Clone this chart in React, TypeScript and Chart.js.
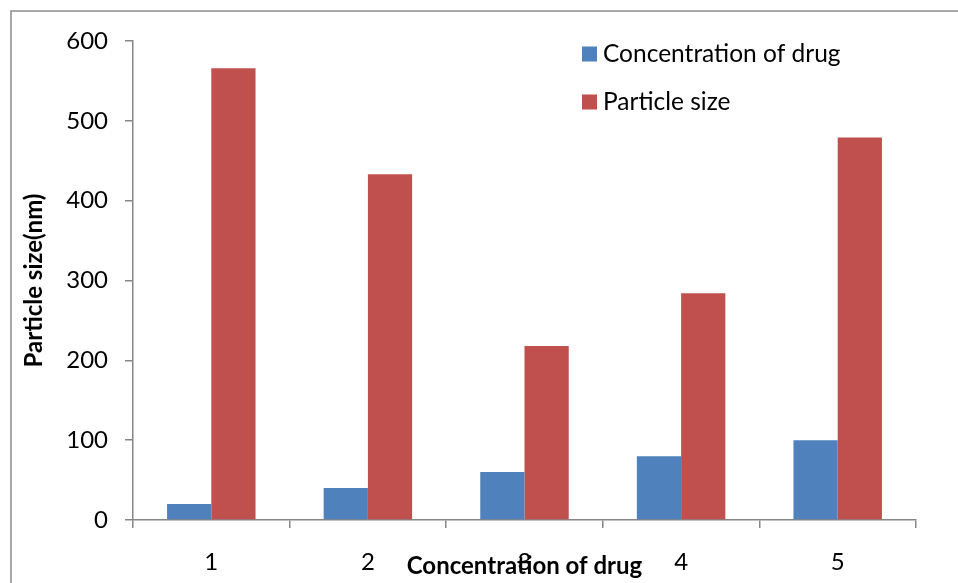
import React, { useEffect, useRef } from "react";
import { Chart, registerables } from "chart.js";

Chart.register(...registerables);

const categories = ["1", "2", "3", "4", "5"];
const concentrationValues = [20, 40, 60, 80, 100];
const particleSizeValues = [566, 433, 218, 284, 479];
const seriesNames = ["Concentration of drug", "Particle size"];
const seriesColors = ["#4F81BD", "#C0504D"];
const yTitle = "Particle size(nm)";
const xTitle = "Concentration of drug";

const FONT = "Lato, 'Open Sans', sans-serif";
const AXIS_COLOR = "#868686";

const framePlugin = {
  id: "frame",
  beforeDraw(chart: any) {
    const ctx = chart.ctx;
    ctx.save();
    ctx.fillStyle = "#ffffff";
    ctx.fillRect(0, 0, chart.width, chart.height);
    ctx.strokeStyle = "#8c8c8c";
    ctx.lineWidth = 1.5;
    ctx.beginPath();
    ctx.moveTo(11, chart.height);
    ctx.lineTo(11, 11);
    ctx.lineTo(chart.width, 11);
    ctx.stroke();
    ctx.restore();
  },
};

const legendPlugin = {
  id: "customLegend",
  afterDraw(chart: any) {
    const ctx = chart.ctx;
    ctx.save();
    ctx.font = `24.5px ${FONT}`;
    ctx.textBaseline = "middle";
    ctx.textAlign = "left";
    chart.data.datasets.forEach((ds: any, i: number) => {
      const cy = 54 + i * 48;
      ctx.fillStyle = ds.backgroundColor;
      ctx.fillRect(582, cy - 7.5, 15, 15);
      ctx.fillStyle = "#000000";
      ctx.fillText(ds.label, 603, cy);
    });
    ctx.restore();
  },
};

export default function App() {
  const ref = useRef<HTMLCanvasElement>(null);

  useEffect(() => {
    if (!ref.current) return;
    const chart = new Chart(ref.current, {
      type: "bar",
      data: {
        labels: categories,
        datasets: [
          {
            label: seriesNames[0],
            data: concentrationValues,
            backgroundColor: seriesColors[0],
            barPercentage: 1,
            categoryPercentage: 0.565,
          },
          {
            label: seriesNames[1],
            data: particleSizeValues,
            backgroundColor: seriesColors[1],
            barPercentage: 1,
            categoryPercentage: 0.565,
          },
        ],
      },
      options: {
        responsive: false,
        animation: false,
        layout: { padding: { left: 0, top: 41, right: 42, bottom: 0 } },
        plugins: {
          legend: { display: false },
          tooltip: { enabled: false },
        },
        scales: {
          x: {
            offset: true,
            grid: {
              offset: true,
              drawOnChartArea: false,
              drawTicks: true,
              tickLength: 8,
              color: AXIS_COLOR,
              lineWidth: 1.5,
            },
            border: { display: true, color: AXIS_COLOR, width: 1.5 },
            ticks: {
              color: "#000000",
              font: { family: FONT, size: 24 },
              padding: 20,
              maxRotation: 0,
            },
            title: {
              display: true,
              text: xTitle,
              color: "#000000",
              font: { family: FONT, size: 24, weight: "bold" },
              padding: { top: 0, bottom: 2 },
            },
            afterFit(scale: any) {
              scale.height = 63;
            },
          },
          y: {
            min: 0,
            max: 600,
            ticks: {
              stepSize: 100,
              color: "#000000",
              font: { family: FONT, size: 24 },
              padding: 17,
            },
            grid: {
              drawOnChartArea: false,
              drawTicks: true,
              tickLength: 8,
              color: AXIS_COLOR,
              lineWidth: 1.5,
            },
            border: { display: true, color: AXIS_COLOR, width: 1.5 },
            title: {
              display: true,
              text: yTitle,
              color: "#000000",
              font: { family: FONT, size: 24, weight: "bold" },
              padding: { top: 20, bottom: 0 },
            },
            afterFit(scale: any) {
              scale.width = 133;
            },
          },
        },
      },
      plugins: [framePlugin, legendPlugin],
    });
    return () => chart.destroy();
  }, []);

  return (
    <div style={{ position: "fixed", left: 0, top: 0, width: 958, height: 583 }}>
      <canvas ref={ref} width={958} height={583} style={{ display: "block" }} />
    </div>
  );
}
